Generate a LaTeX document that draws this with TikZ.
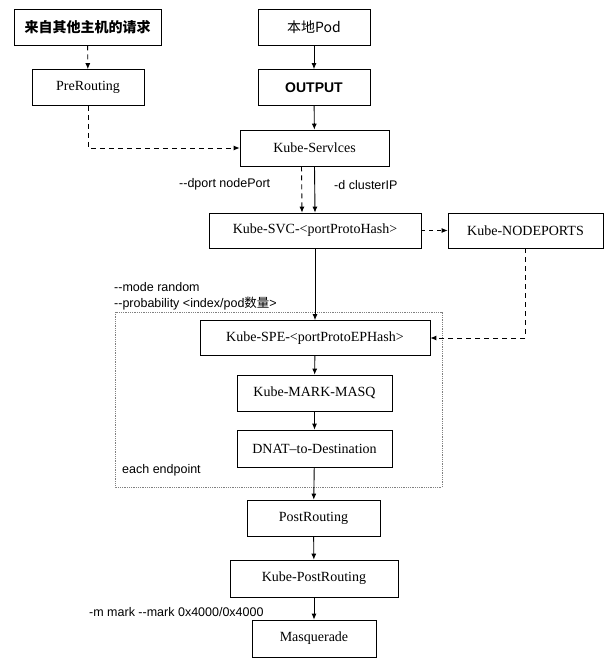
\documentclass[tikz,border=0pt]{standalone}
\usepackage{fontspec}
\setmainfont{Liberation Serif}
\newfontfamily\sansf{Liberation Sans}
\newfontfamily\cjk{Noto Sans CJK SC}
\usetikzlibrary{arrows.meta}
\begin{document}
\begin{tikzpicture}[x=1pt,y=-1pt,
  box/.style={draw,line width=0.7pt,minimum height=36pt,inner sep=0pt,font=\fontsize{14}{16}\selectfont},
  lab/.style={font=\sansf\fontsize{12.5}{14}\selectfont,inner sep=0pt},
  arr/.style={-{Latex[length=6pt,width=5pt]},line width=0.9pt},
  darr/.style={arr,dash pattern=on 5pt off 4pt}]
\useasboundingbox (0,0) rectangle (607,663);
\node[box,minimum width=147pt,font=\cjk\fontsize{14}{16}\selectfont\bfseries] (req) at (87.5,27) {来自其他主机的请求};
\node[box,minimum width=112pt,font=\cjk\fontsize{14}{16}\selectfont] (pod) at (314,27) {本地Pod};
\node[box,minimum width=112pt] (pre) at (88,87.5) {PreRouting};
\node[box,minimum width=112pt,font=\sansf\bfseries\fontsize{14}{16}\selectfont] (out) at (314,87.5) {OUTPUT};
\node[box,minimum width=149pt] (svcs) at (314.5,148) {Kube-Servlces};
\node[box,minimum width=212pt,minimum height=35pt] (svc) at (315,230.5) {Kube-SVC-<portProtoHash>};
\node[box,minimum width=155pt,minimum height=35pt] (np) at (525.5,230.5) {Kube-NODEPORTS};
\draw[gray,densely dotted,line width=0.8pt] (115,312) rectangle (442,487);
\node[box,minimum width=230pt,minimum height=35pt] (spe) at (315,338) {Kube-SPE-<portProtoEPHash>};
\node[box,minimum width=155pt] (mark) at (314.5,393) {Kube-MARK-MASQ};
\node[box,minimum width=155pt,minimum height=37pt] (dnat) at (314.5,448.5) {DNAT--to-Destination};
\node[box,minimum width=133pt] (post) at (313.5,518) {PostRouting};
\node[box,minimum width=168pt,minimum height=37pt] (kpost) at (314,578.5) {Kube-PostRouting};
\node[box,minimum width=124pt,minimum height=37pt] (masq) at (314,638.5) {Masquerade};
\node[lab,anchor=west] (l1) at (179,184) {--dport nodePort};
\node[lab,anchor=west] (l2) at (334,185) {-d clusterIP};
\node[lab,anchor=west] (l3) at (114,287) {--mode random};
\node[lab,anchor=west] (l4) at (114,304) {--probability <index/pod{\cjk 数量}>};
\node[lab,anchor=west] (l5) at (122,470) {each endpoint};
\node[lab,anchor=west] (l6) at (89,612) {-m mark --mark 0x4000/0x4000};
\coordinate (c1) at (pre.south |- svcs.west);
\coordinate (c2) at (np.south |- spe.east);
\draw[darr] (req) -- (pre);
\draw[arr] (pod) -- (out);
\draw[arr] (out) -- (svcs);
\draw[darr] (pre.south) -- (c1) -- (svcs.west);
\draw[darr] ([xshift=-13pt]svcs.south) -- ([xshift=-13pt]svc.north);
\draw[arr] (svcs.south) -- (svc.north);
\draw[darr,dash pattern=on 4pt off 4pt] (svc) -- (np);
\draw[arr] (svc) -- (spe);
\draw[darr] (np.south) -- (c2) -- (spe.east);
\draw[arr] (spe) -- (mark);
\draw[arr] (mark) -- (dnat);
\draw[arr] (dnat) -- (post);
\draw[arr] (post) -- (kpost);
\draw[arr] (kpost) -- (masq);
\end{tikzpicture}
\end{document}
